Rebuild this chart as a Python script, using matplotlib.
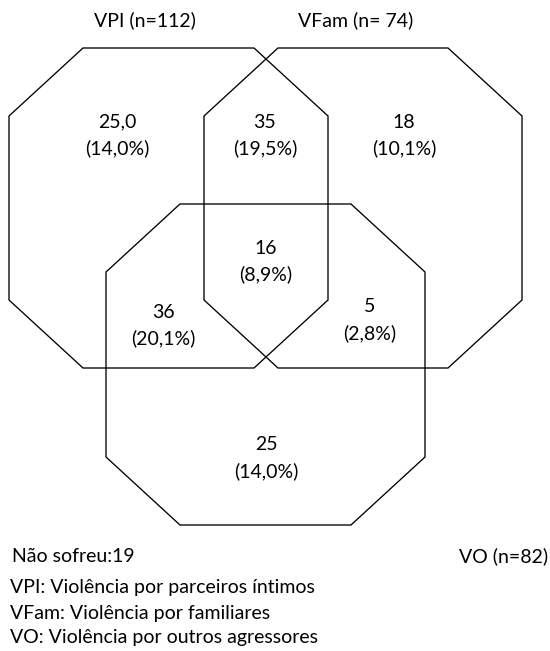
import matplotlib.pyplot as plt
from matplotlib.patches import Polygon

# Dados do diagrama
set_labels = ["VPI (n=112)", "VFam (n= 74)", "VO (n=82)"]
region_counts = ["25,0", "35", "18", "16", "36", "5", "25"]
region_pcts = ["14,0%", "19,5%", "10,1%", "8,9%", "20,1%", "2,8%", "14,0%"]
nao_sofreu = 19
legend_lines = [
    "VPI: Violência por parceiros íntimos",
    "VFam: Violência por familiares",
    "VO: Violência por outros agressores",
]

plt.rcParams['font.family'] = ['Lato', 'DejaVu Sans']

fig = plt.figure(figsize=(5.5, 6.51), dpi=100)
ax = fig.add_axes([0, 0, 1, 1])
ax.set_xlim(0, 550)
ax.set_ylim(651, 0)
ax.axis('off')


def octagon(x0, y0, w, h, cx=74, cy=68):
    return [(x0 + cx, y0), (x0 + w - cx, y0), (x0 + w, y0 + cy), (x0 + w, y0 + h - cy),
            (x0 + w - cx, y0 + h), (x0 + cx, y0 + h), (x0, y0 + h - cy), (x0, y0 + cy)]


# octogonos: VPI, VFam, VO
boxes = [(9, 48, 319, 320), (204, 48, 318, 320), (106, 204, 319, 321)]
for x0, y0, w, h in boxes:
    ax.add_patch(Polygon(octagon(x0, y0, w, h), closed=True, fill=False,
                         edgecolor='black', linewidth=0.95))

fs = 14
ax.text(145, 20, set_labels[0], fontsize=fs, ha='center', va='center')
ax.text(356, 20, set_labels[1], fontsize=fs, ha='center', va='center')
ax.text(548, 556, set_labels[2], fontsize=fs, ha='right', va='center')

# posições dos rótulos das regiões
region_pos = [(117, 122), (265, 122), (404, 122), (266, 248), (163, 312), (370, 307), (266, 445)]
for (x, y), c, p in zip(region_pos, region_counts, region_pcts):
    ax.text(x, y, c, fontsize=fs, ha='center', va='center')
    ax.text(x, y + 26, "(" + p + ")", fontsize=fs, ha='center', va='center')

ax.text(12, 556, "Não sofreu:%d" % nao_sofreu, fontsize=fs, ha='left', va='center')
for i, line in enumerate(legend_lines):
    ax.text(10, 588 + 25 * i, line, fontsize=fs, ha='left', va='center')

fig.savefig("out.png", dpi=100)
